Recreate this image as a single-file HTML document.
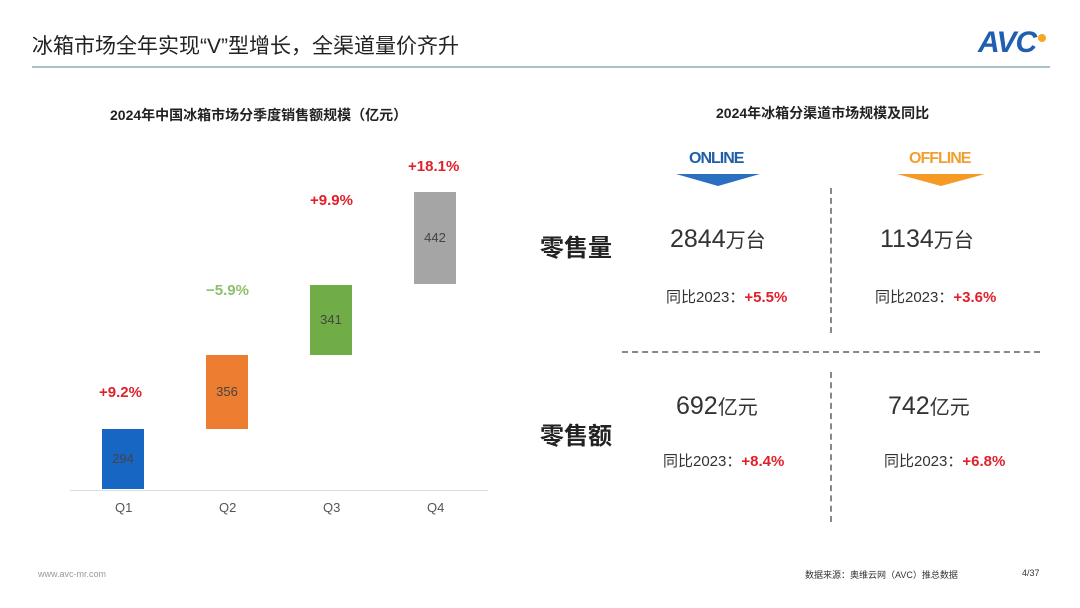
<!DOCTYPE html>
<html><head><meta charset="utf-8"><style>
body{margin:0;width:1080px;height:608px;background:#fff;position:relative;overflow:hidden;font-family:"Liberation Sans","Noto Sans CJK SC",sans-serif;}
.a{position:absolute;white-space:nowrap;}
.red{color:#e0202a;font-weight:bold;}
.bar{position:absolute;width:42px;text-align:center;font-size:13px;color:#444;}
</style></head><body>
<div class="a" style="left:32px;top:30px;font-size:21px;color:#222;">冰箱市场全年实现“V”型增长，全渠道量价齐升</div>
<div class="a" style="left:978px;top:26px;font-size:30px;font-weight:bold;color:#1f5fb0;font-style:italic;letter-spacing:-1px;">AVC</div>
<div class="a" style="left:1038px;top:34px;width:8px;height:8px;border-radius:50%;background:#f5a623;"></div>
<div class="a" style="left:32px;top:66px;width:1018px;height:2px;background:#a9bfcc;"></div>

<div class="a" style="left:110px;top:105px;font-size:14px;font-weight:bold;color:#222;">2024年中国冰箱市场分季度销售额规模（亿元）</div>
<div class="a" style="left:716px;top:103px;font-size:14px;font-weight:bold;color:#222;">2024年冰箱分渠道市场规模及同比</div>

<div class="a" style="left:70px;top:490px;width:418px;height:1px;background:#ddd;"></div>
<div class="bar" style="left:102px;top:429px;height:60px;background:#1866c4;line-height:60px;">294</div>
<div class="bar" style="left:206px;top:355px;height:74px;background:#ed7d31;line-height:74px;">356</div>
<div class="bar" style="left:310px;top:285px;height:70px;background:#70ad47;line-height:70px;">341</div>
<div class="bar" style="left:414px;top:192px;height:92px;background:#a5a5a5;line-height:92px;">442</div>
<div class="a red" style="left:99px;top:384px;font-size:15px;">+9.2%</div>
<div class="a" style="left:206px;top:282px;font-size:15px;font-weight:bold;color:#8dc06a;">−5.9%</div>
<div class="a red" style="left:310px;top:192px;font-size:15px;">+9.9%</div>
<div class="a red" style="left:408px;top:158px;font-size:15px;">+18.1%</div>
<div class="a" style="left:115px;top:500px;font-size:13px;color:#555;">Q1</div>
<div class="a" style="left:219px;top:500px;font-size:13px;color:#555;">Q2</div>
<div class="a" style="left:323px;top:500px;font-size:13px;color:#555;">Q3</div>
<div class="a" style="left:427px;top:500px;font-size:13px;color:#555;">Q4</div>

<div class="a" style="left:689px;top:150px;font-size:16px;color:#1f5fa8;font-weight:bold;letter-spacing:-1px;">ONLINE</div>
<div class="a" style="left:676px;top:174px;width:0;height:0;border-left:42px solid transparent;border-right:42px solid transparent;border-top:12px solid #2a6fc0;"></div>
<div class="a" style="left:909px;top:150px;font-size:16px;color:#f0a030;font-weight:bold;letter-spacing:-1px;">OFFLINE</div>
<div class="a" style="left:897px;top:174px;width:0;height:0;border-left:44px solid transparent;border-right:44px solid transparent;border-top:12px solid #f59a25;"></div>

<div class="a" style="left:830px;top:188px;height:145px;border-left:2px dashed #888;"></div>
<div class="a" style="left:830px;top:372px;height:150px;border-left:2px dashed #888;"></div>
<div class="a" style="left:622px;top:351px;width:418px;border-top:2px dashed #888;"></div>

<div class="a" style="left:540px;top:228px;font-size:24px;font-weight:bold;color:#222;">零售量</div>
<div class="a" style="left:540px;top:416px;font-size:24px;font-weight:bold;color:#222;">零售额</div>
<div class="a" style="left:670px;top:224px;font-size:25px;color:#333;">2844<span style="font-size:20px">万台</span></div>
<div class="a" style="left:880px;top:224px;font-size:25px;color:#333;">1134<span style="font-size:20px">万台</span></div>
<div class="a" style="left:676px;top:391px;font-size:25px;color:#333;">692<span style="font-size:20px">亿元</span></div>
<div class="a" style="left:888px;top:391px;font-size:25px;color:#333;">742<span style="font-size:20px">亿元</span></div>
<div class="a" style="left:666px;top:286px;font-size:15px;color:#333;">同比2023：<span class="red">+5.5%</span></div>
<div class="a" style="left:875px;top:286px;font-size:15px;color:#333;">同比2023：<span class="red">+3.6%</span></div>
<div class="a" style="left:663px;top:450px;font-size:15px;color:#333;">同比2023：<span class="red">+8.4%</span></div>
<div class="a" style="left:884px;top:450px;font-size:15px;color:#333;">同比2023：<span class="red">+6.8%</span></div>

<div class="a" style="left:38px;top:569px;font-size:9px;color:#999;">www.avc-mr.com</div>
<div class="a" style="left:805px;top:568px;font-size:9px;color:#333;">数据来源：奥维云网（AVC）推总数据</div>
<div class="a" style="left:1022px;top:568px;font-size:9px;color:#333;">4/37</div>
</body></html>
